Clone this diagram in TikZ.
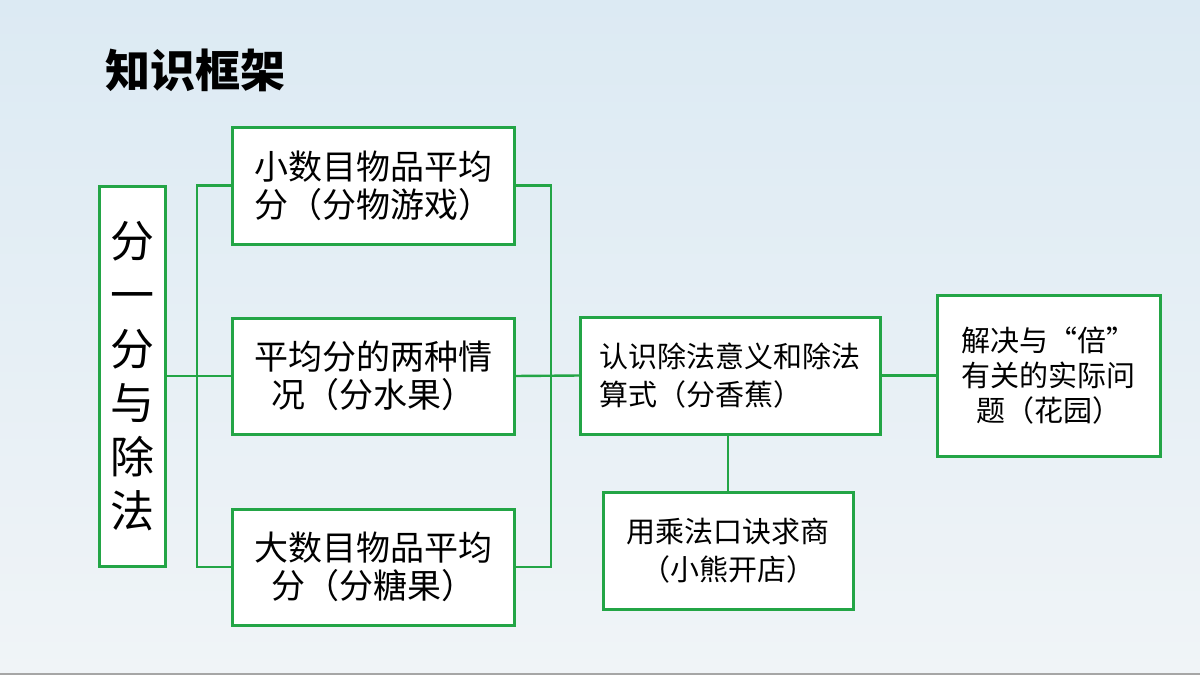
\documentclass[tikz,border=0pt]{standalone}
\usepackage{fontspec}
\newfontfamily\cjk{Noto Sans CJK SC}
\usetikzlibrary{positioning,calc}
\definecolor{leaf}{RGB}{35,165,70}
\definecolor{sky}{RGB}{220,234,243}
\definecolor{mist}{RGB}{240,244,247}

\begin{document}
\begin{tikzpicture}[x=0.5pt,y=-0.5pt,
    box/.style={draw=leaf,line width=1.5pt,fill=white,inner sep=0pt,outer sep=0pt,align=center},
    bigtxt/.style={font=\cjk\fontsize{17}{19}\selectfont},
    smalltxt/.style={font=\cjk\fontsize{14.5}{19}\selectfont},
    link/.style={draw=leaf,line width=1.2pt}]
    \useasboundingbox (0,0) rectangle (1200,675);
    \shade[top color=sky,bottom color=mist] (0,0) rectangle (1200,675);
    \draw[black!35,line width=1pt] (0,674) -- (1200,674);
    \node[font=\cjk\bfseries\fontsize{22.5}{24}\selectfont] (title) at (195,70){知识框架};
    % left column
    \node[box,minimum width=33pt,minimum height=190pt,font=\cjk\fontsize{22}{27}\selectfont] (main) at (132,376){分\\一\\分\\与\\除\\法};
    \node[box,bigtxt,minimum width=141pt,minimum height=58.5pt] (few) at (373,185.5){小数目物品平均\\分（分物游戏）};
    \node[box,bigtxt,minimum width=141pt,minimum height=58pt] (two) at (373,376){平均分的两种情\\况（分水果）};
    \node[box,bigtxt,minimum width=141pt,minimum height=58pt] (many) at (373,567){大数目物品平均\\分（分糖果）};
    % right part
    \node[box,smalltxt,align=left,minimum width=150pt,minimum height=58.5pt] (mean) at (730,375.5){认识除法意义和除法\\算式（分香蕉）};
    \node[box,font=\cjk\fontsize{14.5}{17.5}\selectfont,minimum width=111.5pt,minimum height=80.5pt] (times) at (1048.5,375.5){解决与“倍”\\有关的实际问\\题（花园）};
    \node[box,smalltxt,minimum width=125pt,minimum height=58.5pt] (quot) at (728,550.5){用乘法口诀求商\\（小熊开店）};
    % connectors
    \coordinate (lb) at (197,376);
    \coordinate (rb) at (551,376);
    \draw[link] (main.east) -- (two.west);
    \draw[link] (few.west) -| (lb) |- (many.west);
    \draw[link] (few.east) -| (rb) |- (many.east);
    \draw[link] (two.east) -- (mean.west);
    \draw[link] (mean.east) -- (times.west);
    \draw[link] (mean.south -| quot.north) -- (quot.north);
  \end{tikzpicture}
\end{document}
